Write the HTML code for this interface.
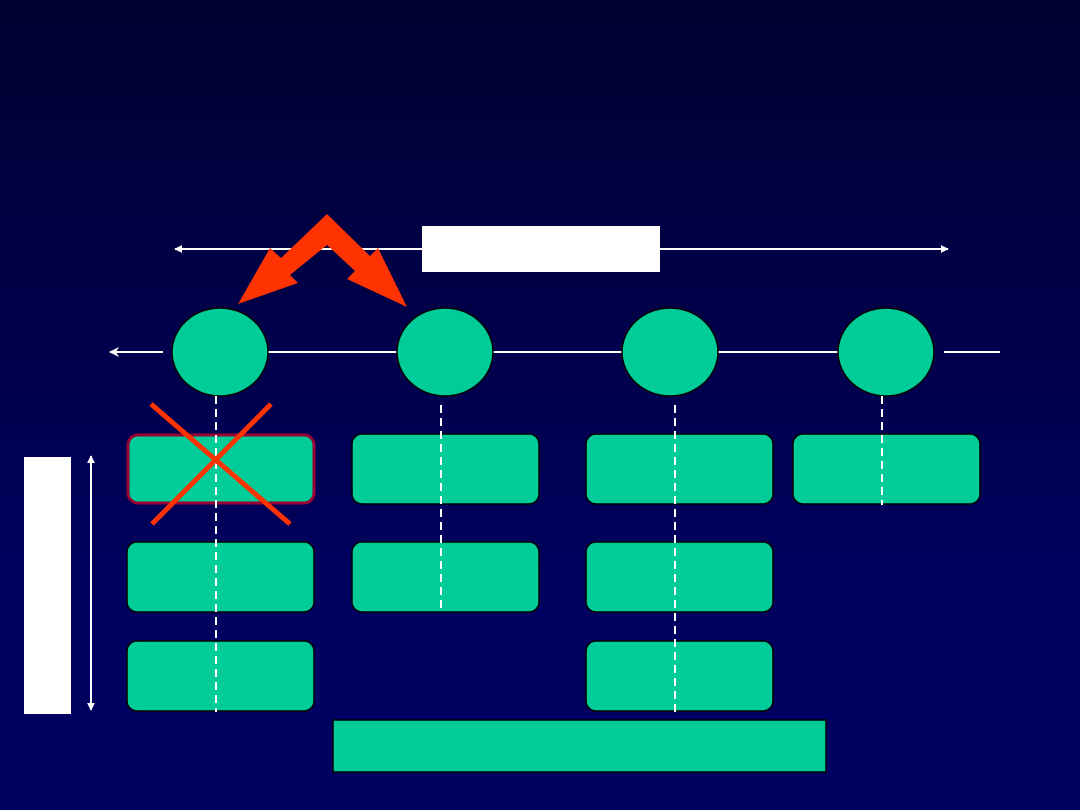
<!DOCTYPE html>
<html><head><meta charset="utf-8"><style>
html,body{margin:0;padding:0;width:1080px;height:810px;overflow:hidden}
body{background:linear-gradient(to bottom,#000030 0%,#00004a 40%,#000060 75%,#000060 100%)}
</style></head><body>
<svg width="1080" height="810" viewBox="0 0 1080 810" xmlns="http://www.w3.org/2000/svg" style="position:absolute;left:0;top:0">
<defs>
<marker id="ah" viewBox="0 0 10 10" refX="9" refY="5" markerWidth="8" markerHeight="8" markerUnits="userSpaceOnUse" orient="auto-start-reverse"><path d="M0,0 L10,5 L0,10 z" fill="#fff"/></marker>
<marker id="ah2" viewBox="0 0 10 10" refX="9" refY="5" markerWidth="12" markerHeight="10" markerUnits="userSpaceOnUse" orient="auto-start-reverse"><path d="M0,0 L10,5 L0,10 L3,5 z" fill="#fff"/></marker>
</defs>
<!-- top arrow line -->
<line x1="175" y1="249" x2="948" y2="249" stroke="#fff" stroke-width="2" marker-start="url(#ah)" marker-end="url(#ah)"/>
<rect x="422" y="226" width="238" height="46" fill="#fff"/>
<!-- red zigzag arrow -->
<polygon points="327,214 370,256 378,248 407,307 347,279 355,271 327,245 290,275 298,283 238,304 270,248 281,258" fill="#ff3300"/>
<!-- horizontal timeline -->
<line x1="163" y1="352" x2="110" y2="352" stroke="#fff" stroke-width="2" marker-end="url(#ah2)"/>
<line x1="268" y1="352" x2="630" y2="352" stroke="#fff" stroke-width="2"/>
<line x1="718" y1="352" x2="846" y2="352" stroke="#fff" stroke-width="2"/>
<line x1="944" y1="352" x2="1000" y2="352" stroke="#fff" stroke-width="2"/>
<g fill="#00cc99" stroke="#000" stroke-width="1.5">
<ellipse cx="220" cy="352" rx="48" ry="44"/>
<ellipse cx="445" cy="352" rx="48" ry="44"/>
<ellipse cx="670" cy="352" rx="48" ry="44"/>
<ellipse cx="886" cy="352" rx="48" ry="44"/>
<rect x="352" y="434" width="187" height="70" rx="10"/>
<rect x="586" y="434" width="187" height="70" rx="10"/>
<rect x="793" y="434" width="187" height="70" rx="10"/>
<rect x="127" y="542" width="187" height="70" rx="10"/>
<rect x="352" y="542" width="187" height="70" rx="10"/>
<rect x="586" y="542" width="187" height="70" rx="10"/>
<rect x="127" y="641" width="187" height="70" rx="10"/>
<rect x="586" y="641" width="187" height="70" rx="10"/>
<rect x="333" y="720" width="493" height="52"/>
</g>
<rect x="128" y="435" width="186" height="68" rx="10" fill="#00cc99" stroke="#990033" stroke-width="3"/>
<!-- dashed lines -->
<g stroke="#fff" stroke-width="2" stroke-dasharray="8,5">
<line x1="216" y1="396" x2="216" y2="712"/>
<line x1="441" y1="405" x2="441" y2="612"/>
<line x1="675" y1="405" x2="675" y2="712"/>
<line x1="882" y1="396" x2="882" y2="505"/>
</g>
<!-- red X -->
<g stroke="#ff3300" stroke-width="5">
<line x1="151" y1="404" x2="290" y2="524"/>
<line x1="271" y1="404" x2="152" y2="524"/>
</g>
<!-- left bar -->
<rect x="24" y="457" width="47" height="257" fill="#fff"/>
<line x1="91" y1="456" x2="91" y2="710" stroke="#fff" stroke-width="2" marker-start="url(#ah)" marker-end="url(#ah)"/>
</svg>
</body></html>
